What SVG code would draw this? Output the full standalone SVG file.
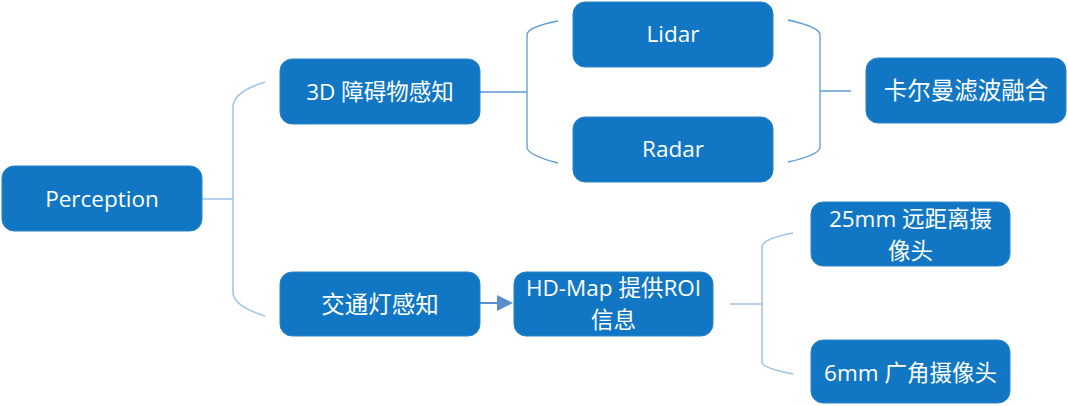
<svg xmlns="http://www.w3.org/2000/svg" width="1068" height="406" viewBox="0 0 1068 406">
<style>
.box{fill:#1177C4;stroke:#2A84C9;stroke-width:1}
.t{fill:#FFFFFF;font-family:"Open Sans","Noto Sans CJK SC",sans-serif;font-size:22.5px;text-anchor:middle}
.z{font-size:23.5px}
.c{fill:none;stroke:#9DC3E6;stroke-width:1.5}
.c2{fill:none;stroke:#5B9BD5;stroke-width:1.3}
</style>
<rect width="1068" height="406" fill="#FFFFFF"/>
<g id="connectors">
<path class="c" d="M202,199 H233 M265,82 Q233,92 233,107 V292 Q233,306 265,316"/>
<path class="c2" d="M480,92 H527 M558,21 Q527,27 527,35 V147 Q527,155 558,163"/>
<path class="c2" d="M788,20 Q820,27 820,35 V147 Q820,155 788,162 M820,91 H851"/>
<path class="c" d="M730,304 H762 M793,233 Q762,239 762,247 V362 Q762,368 793,374"/>
<line x1="480" y1="303" x2="498" y2="303" stroke="#5B8FCB" stroke-width="2"/>
<polygon points="497,295 513,303 497,311" fill="#5B8FCB"/>
</g>
<g id="perception"><rect class="box" x="2" y="166" width="200" height="65" rx="12"/><text class="t" x="102" y="207">Perception</text></g>
<g id="obstacle3d"><rect class="box" x="280" y="59" width="200" height="65" rx="12"/><text class="t" x="380" y="100">3D 障碍物感知</text></g>
<g id="traffic"><rect class="box" x="280" y="272" width="200" height="64" rx="12"/><text class="t z" x="380" y="313">交通灯感知</text></g>
<g id="lidar"><rect class="box" x="573" y="2" width="200" height="65" rx="12"/><text class="t" x="673" y="42">Lidar</text></g>
<g id="radar"><rect class="box" x="573" y="117" width="200" height="65" rx="12"/><text class="t" x="673" y="157">Radar</text></g>
<g id="kalman"><rect class="box" x="866" y="58" width="200" height="65" rx="12"/><text class="t z" x="966" y="99">卡尔曼滤波融合</text></g>
<g id="hdmap"><rect class="box" x="514" y="272" width="199" height="64" rx="12"/><text class="t" x="613.5" y="296">HD-Map 提供ROI</text><text class="t" x="613.5" y="328">信息</text></g>
<g id="cam25"><rect class="box" x="811" y="202" width="199" height="64" rx="12"/><text class="t" x="910.5" y="227">25mm 远距离摄</text><text class="t" x="910.5" y="259">像头</text></g>
<g id="cam6"><rect class="box" x="811" y="340" width="199" height="63" rx="12"/><text class="t" x="910.5" y="381">6mm 广角摄像头</text></g>
</svg>
